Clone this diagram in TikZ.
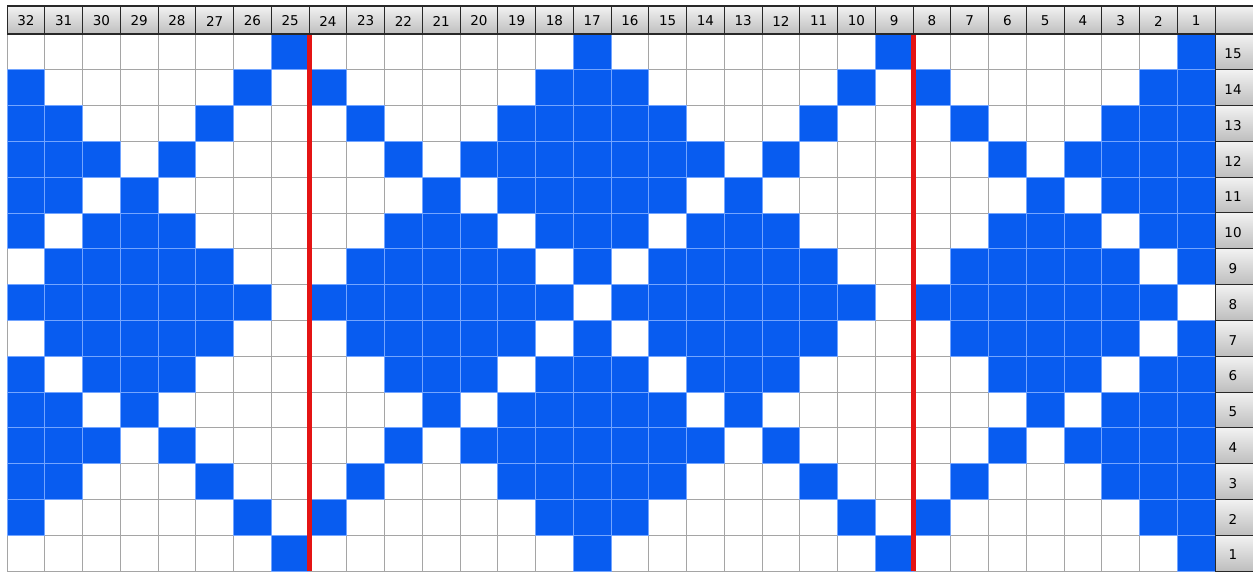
\documentclass[tikz,border=0pt]{standalone}
\usepackage{fontspec}
\setmainfont{DejaVu Sans}
\definecolor{cellblue}{RGB}{8,92,240}
\definecolor{cellline}{RGB}{115,165,255}
\definecolor{gridgray}{RGB}{165,165,165}
\definecolor{hdtop}{RGB}{242,242,242}
\definecolor{hdbot}{RGB}{190,190,190}
\definecolor{hdline}{RGB}{40,40,40}
\definecolor{redline}{RGB}{228,20,20}
\tikzset{
  hdcell/.style={top color=hdtop,bottom color=hdbot,draw=hdline,line width=1},
  hdtext/.style={font=\fontsize{13.5}{15}\selectfont,text=black,inner sep=0},
  bluecell/.style={fill=cellblue,draw=cellline,line width=0.8},
  gridline/.style={draw=gridgray,line width=0.9},
  sep/.style={draw=redline,line width=5}
}
\begin{document}
\begin{tikzpicture}[x=1pt,y=1pt]
\useasboundingbox (0,0) rectangle (1253,571);
\fill[white] (0,0) rectangle (1253,571);
% grid lines
\foreach \k in {0,...,32} {
  \draw[gridline] ({7+\k*37.75},0) -- ({7+\k*37.75},537);
}
\foreach \k in {0,...,15} {
  \draw[gridline] (7,{\k*35.8}) -- (1215,{\k*35.8});
}
% blue cells
\foreach \r/\cols in {
  15/{1,9,17,25},
  14/{1,2,8,10,16,17,18,24,26,32},
  13/{1,2,3,7,11,15,16,17,18,19,23,27,31,32},
  12/{1,2,3,4,6,12,14,15,16,17,18,19,20,22,28,30,31,32},
  11/{1,2,3,5,13,15,16,17,18,19,21,29,31,32},
  10/{1,2,4,5,6,12,13,14,16,17,18,20,21,22,28,29,30,32},
  9/{1,3,4,5,6,7,11,12,13,14,15,17,19,20,21,22,23,27,28,29,30,31},
  8/{2,3,4,5,6,7,8,10,11,12,13,14,15,16,18,19,20,21,22,23,24,26,27,28,29,30,31,32},
  7/{1,3,4,5,6,7,11,12,13,14,15,17,19,20,21,22,23,27,28,29,30,31},
  6/{1,2,4,5,6,12,13,14,16,17,18,20,21,22,28,29,30,32},
  5/{1,2,3,5,13,15,16,17,18,19,21,29,31,32},
  4/{1,2,3,4,6,12,14,15,16,17,18,19,20,22,28,30,31,32},
  3/{1,2,3,7,11,15,16,17,18,19,23,27,31,32},
  2/{1,2,8,10,16,17,18,24,26,32},
  1/{1,9,17,25}} {
  \foreach \c in \cols {
    \draw[bluecell] ({7+(32-\c)*37.75},{(\r-1)*35.8}) rectangle ++(37.75,35.8);
  }
}
% red separators
\coordinate (s1b) at (309,0);
\coordinate (s1t) at (309,537);
\coordinate (s2b) at (913,0);
\coordinate (s2t) at (913,537);
\draw[sep] (s1b) -- (s1t);
\draw[sep] (s2b) -- (s2t);
% column header
\foreach \c in {1,...,32} {
  \draw[hdcell] ({7+(32-\c)*37.75},537) rectangle ++(37.75,28);
  \node[hdtext] (h\c) at ({7+(32.5-\c)*37.75},550) {\c};
}
\draw[hdcell] (1215,537) rectangle (1254,565);
% row header
\foreach \r in {1,...,15} {
  \draw[hdcell] (1215,{(\r-1)*35.8}) rectangle (1254,{\r*35.8});
  \node[hdtext] (r\r) at (1233,{(\r-0.55)*35.8}) {\r};
}
\draw[hdline,line width=1.2] (7,565) -- (1254,565);
\draw[hdline,line width=1.2] (7,537) -- (1254,537);
\end{tikzpicture}
\end{document}
